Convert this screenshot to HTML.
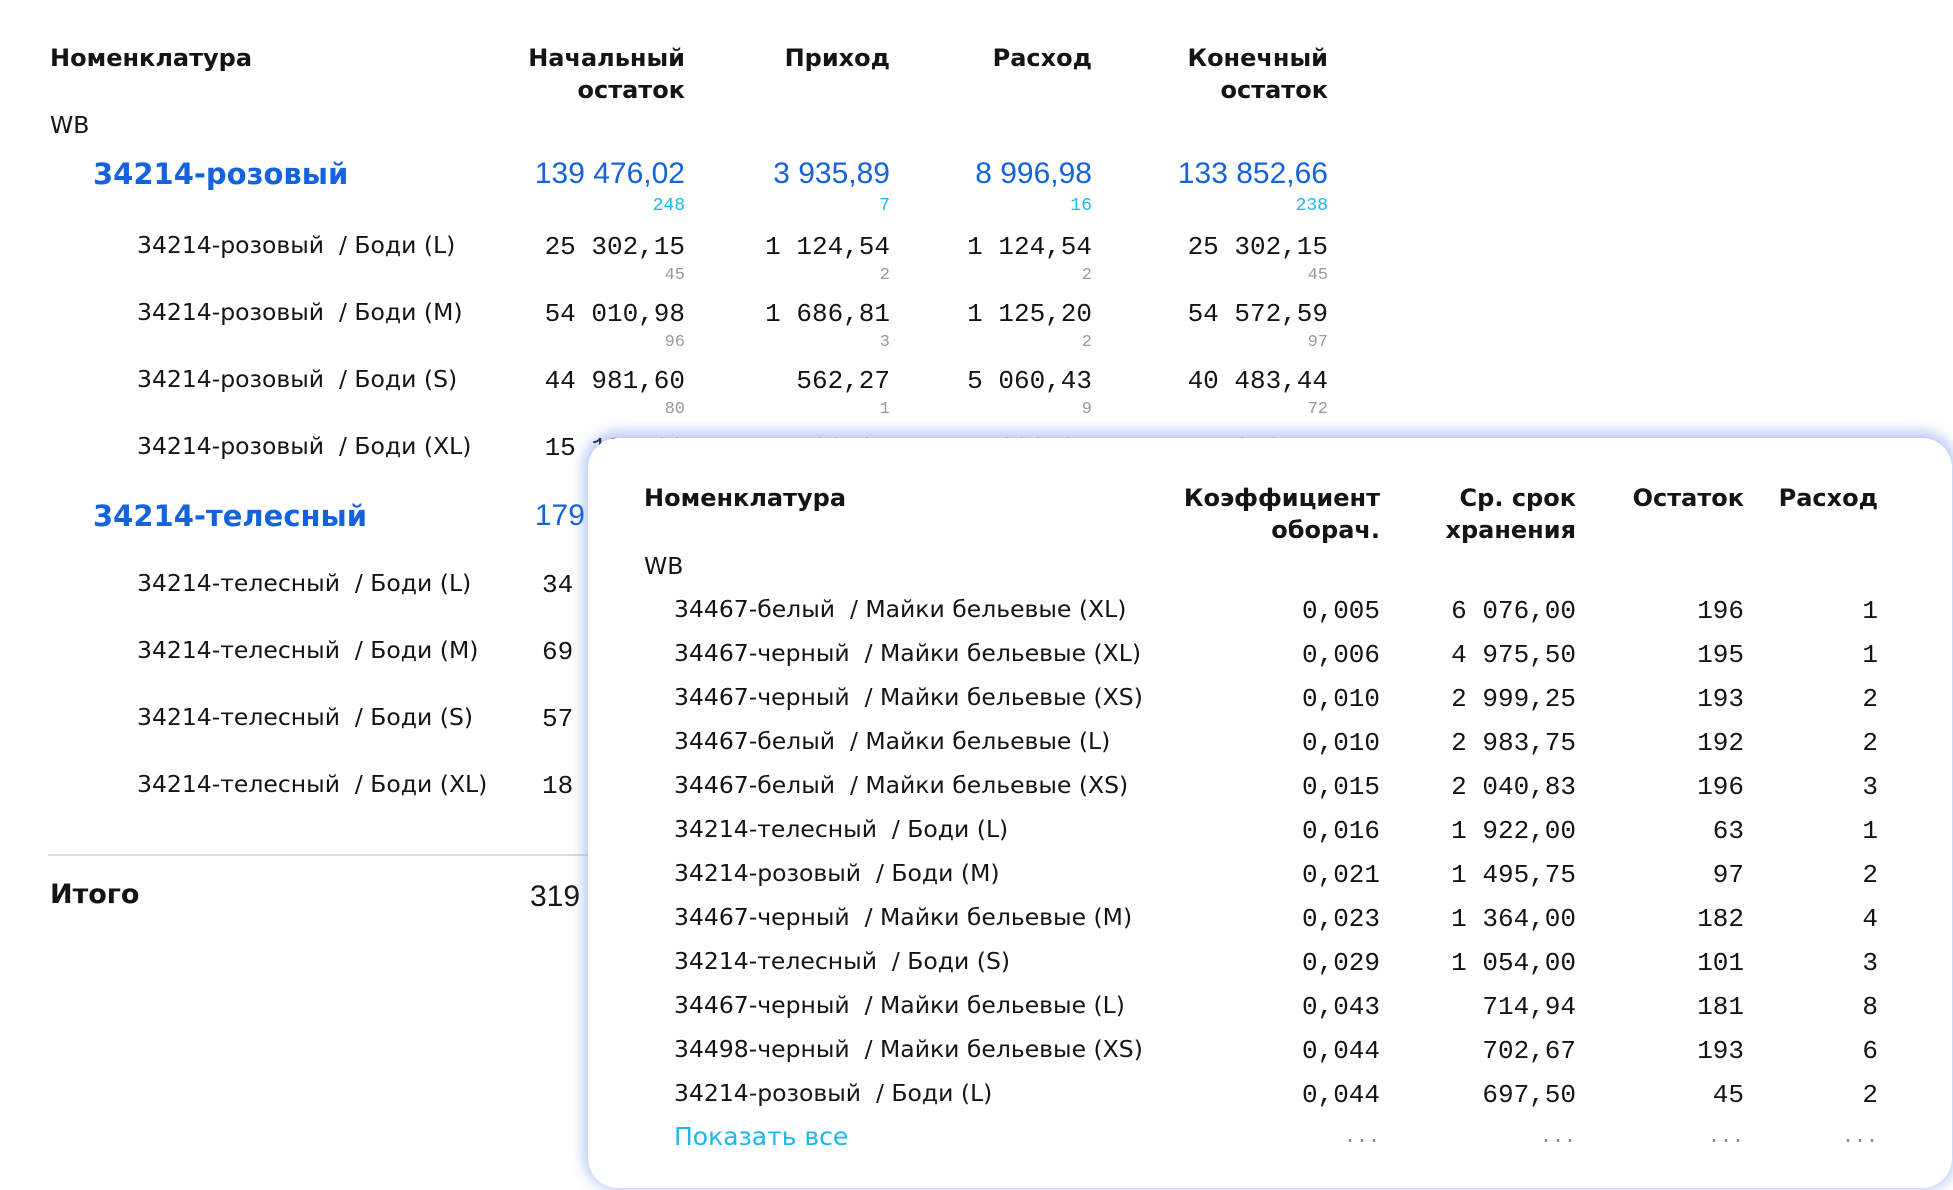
<!DOCTYPE html>
<html><head><meta charset="utf-8"><style>
html,body{margin:0;padding:0}
body{width:1953px;height:1190px;background:#fff;position:relative;overflow:hidden;font-family:"DejaVu Sans","Liberation Sans",sans-serif;color:#141414}
.t{position:absolute;white-space:nowrap;line-height:30px;transform:translateY(-15px)}
.h{font-weight:bold;font-size:24px}
.r{text-align:right}
.m{font-family:"Liberation Mono","DejaVu Sans Mono",monospace;font-size:26px}
.s{font-family:"Liberation Mono",monospace;font-size:17px;color:#999}
.b{color:#1463dc;font-size:29px;font-weight:bold}
.bn{color:#1463dc;font-size:30px;font-family:"Liberation Sans",sans-serif}
.c{font-family:"Liberation Mono",monospace;font-size:18px;color:#19b8f0}
.n{font-size:23.5px}
#panel{position:absolute;left:588px;top:438px;width:1364px;height:750px;background:#fff;border-radius:30px;box-shadow:0 -2px 14px 4px rgba(90,130,235,0.45)}
</style></head><body>
<div class="t h" style="left:50px;top:58px">Номенклатура</div>
<div class="t h r" style="right:1268px;top:58px">Начальный</div>
<div class="t h r" style="right:1268px;top:90px">остаток</div>
<div class="t h r" style="right:1063px;top:58px">Приход</div>
<div class="t h r" style="right:861px;top:58px">Расход</div>
<div class="t h r" style="right:625px;top:58px">Конечный</div>
<div class="t h r" style="right:625px;top:90px">остаток</div>
<div class="t n" style="left:50px;top:125px">WB</div>

<div class="t b" style="left:93px;top:174px">34214-розовый</div>
<div class="t bn r" style="right:1268px;top:174px">139 476,02</div>
<div class="t bn r" style="right:1063px;top:174px">3 935,89</div>
<div class="t bn r" style="right:861px;top:174px">8 996,98</div>
<div class="t bn r" style="right:625px;top:174px">133 852,66</div>
<div class="t c r" style="right:1268px;top:206px">248</div>
<div class="t c r" style="right:1063px;top:206px">7</div>
<div class="t c r" style="right:861px;top:206px">16</div>
<div class="t c r" style="right:625px;top:206px">238</div>

<div class="t n" style="left:137px;top:245px">34214-розовый&nbsp; / Боди (L)</div>
<div class="t m r" style="right:1268px;top:247px">25 302,15</div>
<div class="t m r" style="right:1063px;top:247px">1 124,54</div>
<div class="t m r" style="right:861px;top:247px">1 124,54</div>
<div class="t m r" style="right:625px;top:247px">25 302,15</div>
<div class="t s r" style="right:1268px;top:276px">45</div>
<div class="t s r" style="right:1063px;top:276px">2</div>
<div class="t s r" style="right:861px;top:276px">2</div>
<div class="t s r" style="right:625px;top:276px">45</div>

<div class="t n" style="left:137px;top:312px">34214-розовый&nbsp; / Боди (M)</div>
<div class="t m r" style="right:1268px;top:314px">54 010,98</div>
<div class="t m r" style="right:1063px;top:314px">1 686,81</div>
<div class="t m r" style="right:861px;top:314px">1 125,20</div>
<div class="t m r" style="right:625px;top:314px">54 572,59</div>
<div class="t s r" style="right:1268px;top:343px">96</div>
<div class="t s r" style="right:1063px;top:343px">3</div>
<div class="t s r" style="right:861px;top:343px">2</div>
<div class="t s r" style="right:625px;top:343px">97</div>

<div class="t n" style="left:137px;top:379px">34214-розовый&nbsp; / Боди (S)</div>
<div class="t m r" style="right:1268px;top:381px">44 981,60</div>
<div class="t m r" style="right:1063px;top:381px">562,27</div>
<div class="t m r" style="right:861px;top:381px">5 060,43</div>
<div class="t m r" style="right:625px;top:381px">40 483,44</div>
<div class="t s r" style="right:1268px;top:410px">80</div>
<div class="t s r" style="right:1063px;top:410px">1</div>
<div class="t s r" style="right:861px;top:410px">9</div>
<div class="t s r" style="right:625px;top:410px">72</div>

<div class="t n" style="left:137px;top:446px">34214-розовый&nbsp; / Боди (XL)</div>
<div class="t m r" style="right:1268px;top:448px">15 181,29</div>
<div class="t m r" style="right:1063px;top:448px">562,27</div>
<div class="t m r" style="right:861px;top:448px">1 686,81</div>
<div class="t m r" style="right:625px;top:448px">14 056,75</div>

<div class="t b" style="left:93px;top:516px">34214-телесный</div>
<div class="t bn r" style="right:1268px;top:516px">179 934,40</div>
<div class="t m" style="left:542px;top:585px">34</div>
<div class="t m" style="left:542px;top:652px">69</div>
<div class="t m" style="left:542px;top:719px">57</div>
<div class="t m" style="left:542px;top:786px">18</div>
<div class="t n" style="left:137px;top:583px">34214-телесный&nbsp; / Боди (L)</div>
<div class="t n" style="left:137px;top:650px">34214-телесный&nbsp; / Боди (M)</div>
<div class="t n" style="left:137px;top:717px">34214-телесный&nbsp; / Боди (S)</div>
<div class="t n" style="left:137px;top:784px">34214-телесный&nbsp; / Боди (XL)</div>
<div style="position:absolute;left:48px;top:854px;width:560px;height:2px;background:#ddd"></div>
<div class="t" style="left:50px;top:895px;font-size:27px;font-weight:bold">Итого</div>
<div class="t" style="left:530px;top:897px;font-size:30px;font-family:'Liberation Sans',sans-serif">319 410,42</div>

<div id="panel"></div>
<div class="t h" style="left:644px;top:498px">Номенклатура</div>
<div class="t h r" style="right:573px;top:498px">Коэффициент</div>
<div class="t h r" style="right:573px;top:530px">оборач.</div>
<div class="t h r" style="right:377px;top:498px">Ср. срок</div>
<div class="t h r" style="right:377px;top:530px">хранения</div>
<div class="t h r" style="right:209px;top:498px">Остаток</div>
<div class="t h r" style="right:75px;top:498px">Расход</div>
<div class="t n" style="left:644px;top:566px">WB</div>

<div class="t n" style="left:674px;top:609px">34467-белый&nbsp; / Майки бельевые (XL)</div><div class="t m r" style="right:573px;top:611px">0,005</div><div class="t m r" style="right:377px;top:611px">6 076,00</div><div class="t m r" style="right:209px;top:611px">196</div><div class="t m r" style="right:75px;top:611px">1</div>
<div class="t n" style="left:674px;top:653px">34467-черный&nbsp; / Майки бельевые (XL)</div><div class="t m r" style="right:573px;top:655px">0,006</div><div class="t m r" style="right:377px;top:655px">4 975,50</div><div class="t m r" style="right:209px;top:655px">195</div><div class="t m r" style="right:75px;top:655px">1</div>
<div class="t n" style="left:674px;top:697px">34467-черный&nbsp; / Майки бельевые (XS)</div><div class="t m r" style="right:573px;top:699px">0,010</div><div class="t m r" style="right:377px;top:699px">2 999,25</div><div class="t m r" style="right:209px;top:699px">193</div><div class="t m r" style="right:75px;top:699px">2</div>
<div class="t n" style="left:674px;top:741px">34467-белый&nbsp; / Майки бельевые (L)</div><div class="t m r" style="right:573px;top:743px">0,010</div><div class="t m r" style="right:377px;top:743px">2 983,75</div><div class="t m r" style="right:209px;top:743px">192</div><div class="t m r" style="right:75px;top:743px">2</div>
<div class="t n" style="left:674px;top:785px">34467-белый&nbsp; / Майки бельевые (XS)</div><div class="t m r" style="right:573px;top:787px">0,015</div><div class="t m r" style="right:377px;top:787px">2 040,83</div><div class="t m r" style="right:209px;top:787px">196</div><div class="t m r" style="right:75px;top:787px">3</div>
<div class="t n" style="left:674px;top:829px">34214-телесный&nbsp; / Боди (L)</div><div class="t m r" style="right:573px;top:831px">0,016</div><div class="t m r" style="right:377px;top:831px">1 922,00</div><div class="t m r" style="right:209px;top:831px">63</div><div class="t m r" style="right:75px;top:831px">1</div>
<div class="t n" style="left:674px;top:873px">34214-розовый&nbsp; / Боди (M)</div><div class="t m r" style="right:573px;top:875px">0,021</div><div class="t m r" style="right:377px;top:875px">1 495,75</div><div class="t m r" style="right:209px;top:875px">97</div><div class="t m r" style="right:75px;top:875px">2</div>
<div class="t n" style="left:674px;top:917px">34467-черный&nbsp; / Майки бельевые (M)</div><div class="t m r" style="right:573px;top:919px">0,023</div><div class="t m r" style="right:377px;top:919px">1 364,00</div><div class="t m r" style="right:209px;top:919px">182</div><div class="t m r" style="right:75px;top:919px">4</div>
<div class="t n" style="left:674px;top:961px">34214-телесный&nbsp; / Боди (S)</div><div class="t m r" style="right:573px;top:963px">0,029</div><div class="t m r" style="right:377px;top:963px">1 054,00</div><div class="t m r" style="right:209px;top:963px">101</div><div class="t m r" style="right:75px;top:963px">3</div>
<div class="t n" style="left:674px;top:1005px">34467-черный&nbsp; / Майки бельевые (L)</div><div class="t m r" style="right:573px;top:1007px">0,043</div><div class="t m r" style="right:377px;top:1007px">714,94</div><div class="t m r" style="right:209px;top:1007px">181</div><div class="t m r" style="right:75px;top:1007px">8</div>
<div class="t n" style="left:674px;top:1049px">34498-черный&nbsp; / Майки бельевые (XS)</div><div class="t m r" style="right:573px;top:1051px">0,044</div><div class="t m r" style="right:377px;top:1051px">702,67</div><div class="t m r" style="right:209px;top:1051px">193</div><div class="t m r" style="right:75px;top:1051px">6</div>
<div class="t n" style="left:674px;top:1093px">34214-розовый&nbsp; / Боди (L)</div><div class="t m r" style="right:573px;top:1095px">0,044</div><div class="t m r" style="right:377px;top:1095px">697,50</div><div class="t m r" style="right:209px;top:1095px">45</div><div class="t m r" style="right:75px;top:1095px">2</div>

<div class="t" style="left:674px;top:1137px;font-size:25px;color:#19b8f0">Показать все</div>
<div class="t m r" style="right:573px;top:1138px;color:#888;font-size:20px">...</div>
<div class="t m r" style="right:377px;top:1138px;color:#888;font-size:20px">...</div>
<div class="t m r" style="right:209px;top:1138px;color:#888;font-size:20px">...</div>
<div class="t m r" style="right:75px;top:1138px;color:#888;font-size:20px">...</div>
</body></html>
